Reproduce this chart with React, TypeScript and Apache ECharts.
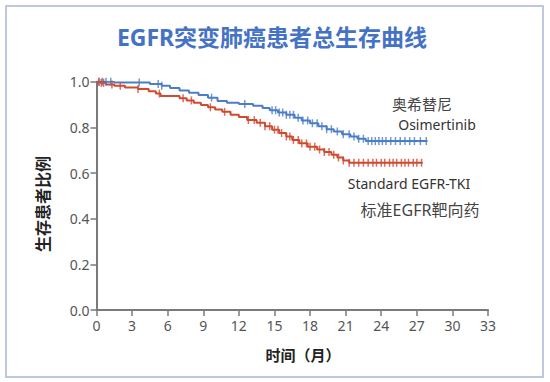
import React, { useEffect, useRef } from "react";
import * as echarts from "echarts";

const title = "EGFR突变肺癌患者总生存曲线";
const yAxisName = "生存患者比例";
const xAxisName = "时间（月）";
const xTicks = [0, 3, 6, 9, 12, 15, 18, 21, 24, 27, 30, 33];

// Kaplan-Meier steps: [month, survival]
const osimSteps: [number, number][] = [
  [0, 1], [1.5, 0.996], [4.5, 0.99], [5.5, 0.982], [6.2, 0.972], [7, 0.962],
  [7.8, 0.952], [8.6, 0.942], [9.4, 0.93], [10.2, 0.915], [11, 0.908],
  [12, 0.902], [13.2, 0.895], [14, 0.885], [14.6, 0.875], [15.3, 0.865],
  [16, 0.855], [16.7, 0.842], [17.3, 0.83], [18, 0.818], [18.7, 0.805],
  [19.4, 0.792], [20, 0.782], [20.7, 0.77], [21.4, 0.76], [22, 0.75],
  [22.7, 0.74], [27.9, 0.74],
];
const stdSteps: [number, number][] = [
  [0, 1], [0.3, 0.995], [0.8, 0.988], [1.5, 0.982], [2.4, 0.975], [3.5, 0.968],
  [4.4, 0.958], [5, 0.948], [5.4, 0.937], [7, 0.928], [7.6, 0.918],
  [8.2, 0.908], [8.8, 0.898], [9.4, 0.888], [10, 0.878], [10.6, 0.868],
  [11.3, 0.855], [12, 0.845], [12.7, 0.832], [13.5, 0.82], [14.2, 0.805],
  [14.8, 0.79], [15.4, 0.775], [16, 0.76], [16.5, 0.745], [17.1, 0.73],
  [17.8, 0.715], [18.6, 0.703], [19.2, 0.692], [19.8, 0.68], [20.3, 0.668],
  [20.8, 0.655], [21.3, 0.645], [27.5, 0.645],
];
const osimCensor = [
  0.2, 0.5, 0.8, 1.2, 3.6, 5.2, 5.5, 9.7, 12.5, 14.8, 15.1, 15.4, 15.7, 16.0,
  16.3, 16.6, 17.0, 17.4, 17.8, 18.2, 18.6, 19.0, 19.4, 19.8, 20.3, 20.8, 21.3,
  21.7, 22.1, 22.5, 22.9, 23.2, 23.5, 23.8, 24.1, 24.4, 24.8, 25.2, 25.6, 26.0,
  26.4, 26.8, 27.3, 27.8,
];
const stdCensor = [
  0.2, 0.4, 0.6, 1.3, 2.0, 3.5, 5.3, 7.3, 8.0, 9.6, 10.8, 12.8, 13.3, 13.8,
  14.2, 14.6, 15.0, 15.3, 15.6, 16.0, 16.3, 16.6, 17.0, 17.3, 17.7, 18.0, 18.4,
  18.8, 19.2, 19.6, 20.0, 20.4, 20.8, 21.3, 21.7, 22.1, 22.5, 22.9, 23.3, 23.6,
  24.0, 24.3, 24.7, 25.0, 25.3, 25.7, 26.0, 26.3, 26.7, 27.0, 27.4,
];
const osimLabels = ["奥希替尼", "Osimertinib"];
const stdLabels = ["Standard EGFR-TKI", "标准EGFR靶向药"];

const BLUE = "#4b7dc8";
const RED = "#cf4a30";
const FONT = "'Noto Sans', 'Noto Sans CJK SC', sans-serif";

function survAt(steps: [number, number][], t: number): number {
  let v = steps[0][1];
  for (const [x, y] of steps) {
    if (x <= t) v = y;
    else break;
  }
  return v;
}

export default function App() {
  const ref = useRef<HTMLDivElement>(null);
  useEffect(() => {
    if (!ref.current) return;
    const chart = echarts.init(ref.current, undefined, { renderer: "svg" });
    const axisLine = { lineStyle: { color: "#7a7a7a", width: 2 } };
    chart.setOption({
      animation: false,
      backgroundColor: "#ffffff",
      grid: { left: 96.5, right: 62, top: 81.7, bottom: 72 },
      xAxis: {
        type: "value",
        min: 0,
        max: 33,
        interval: 3,
        axisLine: { ...axisLine, onZero: false },
        axisTick: { show: true, length: 6, lineStyle: { color: "#7a7a7a", width: 1.5 } },
        axisLabel: { color: "#555", fontSize: 14, fontFamily: FONT, margin: 8 },
        splitLine: { show: false },
      },
      yAxis: {
        type: "value",
        min: 0,
        max: 1,
        interval: 0.2,
        axisLine: { ...axisLine, show: true },
        axisTick: { show: true, length: 6, lineStyle: { color: "#7a7a7a", width: 1.5 } },
        axisLabel: {
          color: "#555",
          fontSize: 14,
          fontFamily: FONT,
          margin: 7,
          formatter: (v: number) => v.toFixed(1),
        },
        splitLine: { show: false },
      },
      series: [
        {
          type: "line",
          step: "end",
          data: osimSteps,
          showSymbol: false,
          lineStyle: { color: BLUE, width: 2 },
          z: 3,
        },
        {
          type: "line",
          step: "end",
          data: stdSteps,
          showSymbol: false,
          lineStyle: { color: RED, width: 2 },
          z: 3,
        },
        {
          type: "scatter",
          data: osimCensor.map((t) => [t, survAt(osimSteps, t)]),
          symbol: "rect",
          symbolSize: [1.5, 8],
          itemStyle: { color: BLUE },
          z: 4,
        },
        {
          type: "scatter",
          data: stdCensor.map((t) => [t, survAt(stdSteps, t)]),
          symbol: "rect",
          symbolSize: [1.5, 8],
          itemStyle: { color: RED },
          z: 4,
        },
      ],
      graphic: [
        {
          type: "rect",
          shape: { x: 6, y: 6, width: 537, height: 371 },
          style: { fill: "none", stroke: "#a9b7d6", lineWidth: 1.5 },
          z: 0,
        },
        {
          type: "text",
          x: 272,
          y: 37,
          style: {
            text: title,
            fill: "#4472c4",
            font: `bold 23px ${FONT}`,
            align: "center",
            verticalAlign: "middle",
          },
        },
        {
          type: "text",
          x: 43,
          y: 204,
          rotation: Math.PI / 2,
          style: {
            text: yAxisName,
            fill: "#222",
            font: `bold 16px ${FONT}`,
            align: "center",
            verticalAlign: "middle",
          },
        },
        {
          type: "text",
          x: 303,
          y: 355,
          style: {
            text: xAxisName,
            fill: "#222",
            font: `bold 15px ${FONT}`,
            align: "center",
            verticalAlign: "middle",
          },
        },
        {
          type: "text",
          x: 422,
          y: 104,
          style: { text: osimLabels[0], fill: "#444", font: `15px ${FONT}`, align: "center", verticalAlign: "middle" },
        },
        {
          type: "text",
          x: 437,
          y: 124,
          style: { text: osimLabels[1], fill: "#333", font: `14px ${FONT}`, align: "center", verticalAlign: "middle" },
        },
        {
          type: "text",
          x: 409,
          y: 183,
          style: { text: stdLabels[0], fill: "#333", font: `14px ${FONT}`, align: "center", verticalAlign: "middle" },
        },
        {
          type: "text",
          x: 420,
          y: 210,
          style: { text: stdLabels[1], fill: "#444", font: `16px ${FONT}`, align: "center", verticalAlign: "middle" },
        },
      ],
    });
    return () => chart.dispose();
  }, []);
  return (
    <div
      ref={ref}
      style={{ position: "fixed", left: 0, top: 0, width: 550, height: 382 }}
    />
  );
}
